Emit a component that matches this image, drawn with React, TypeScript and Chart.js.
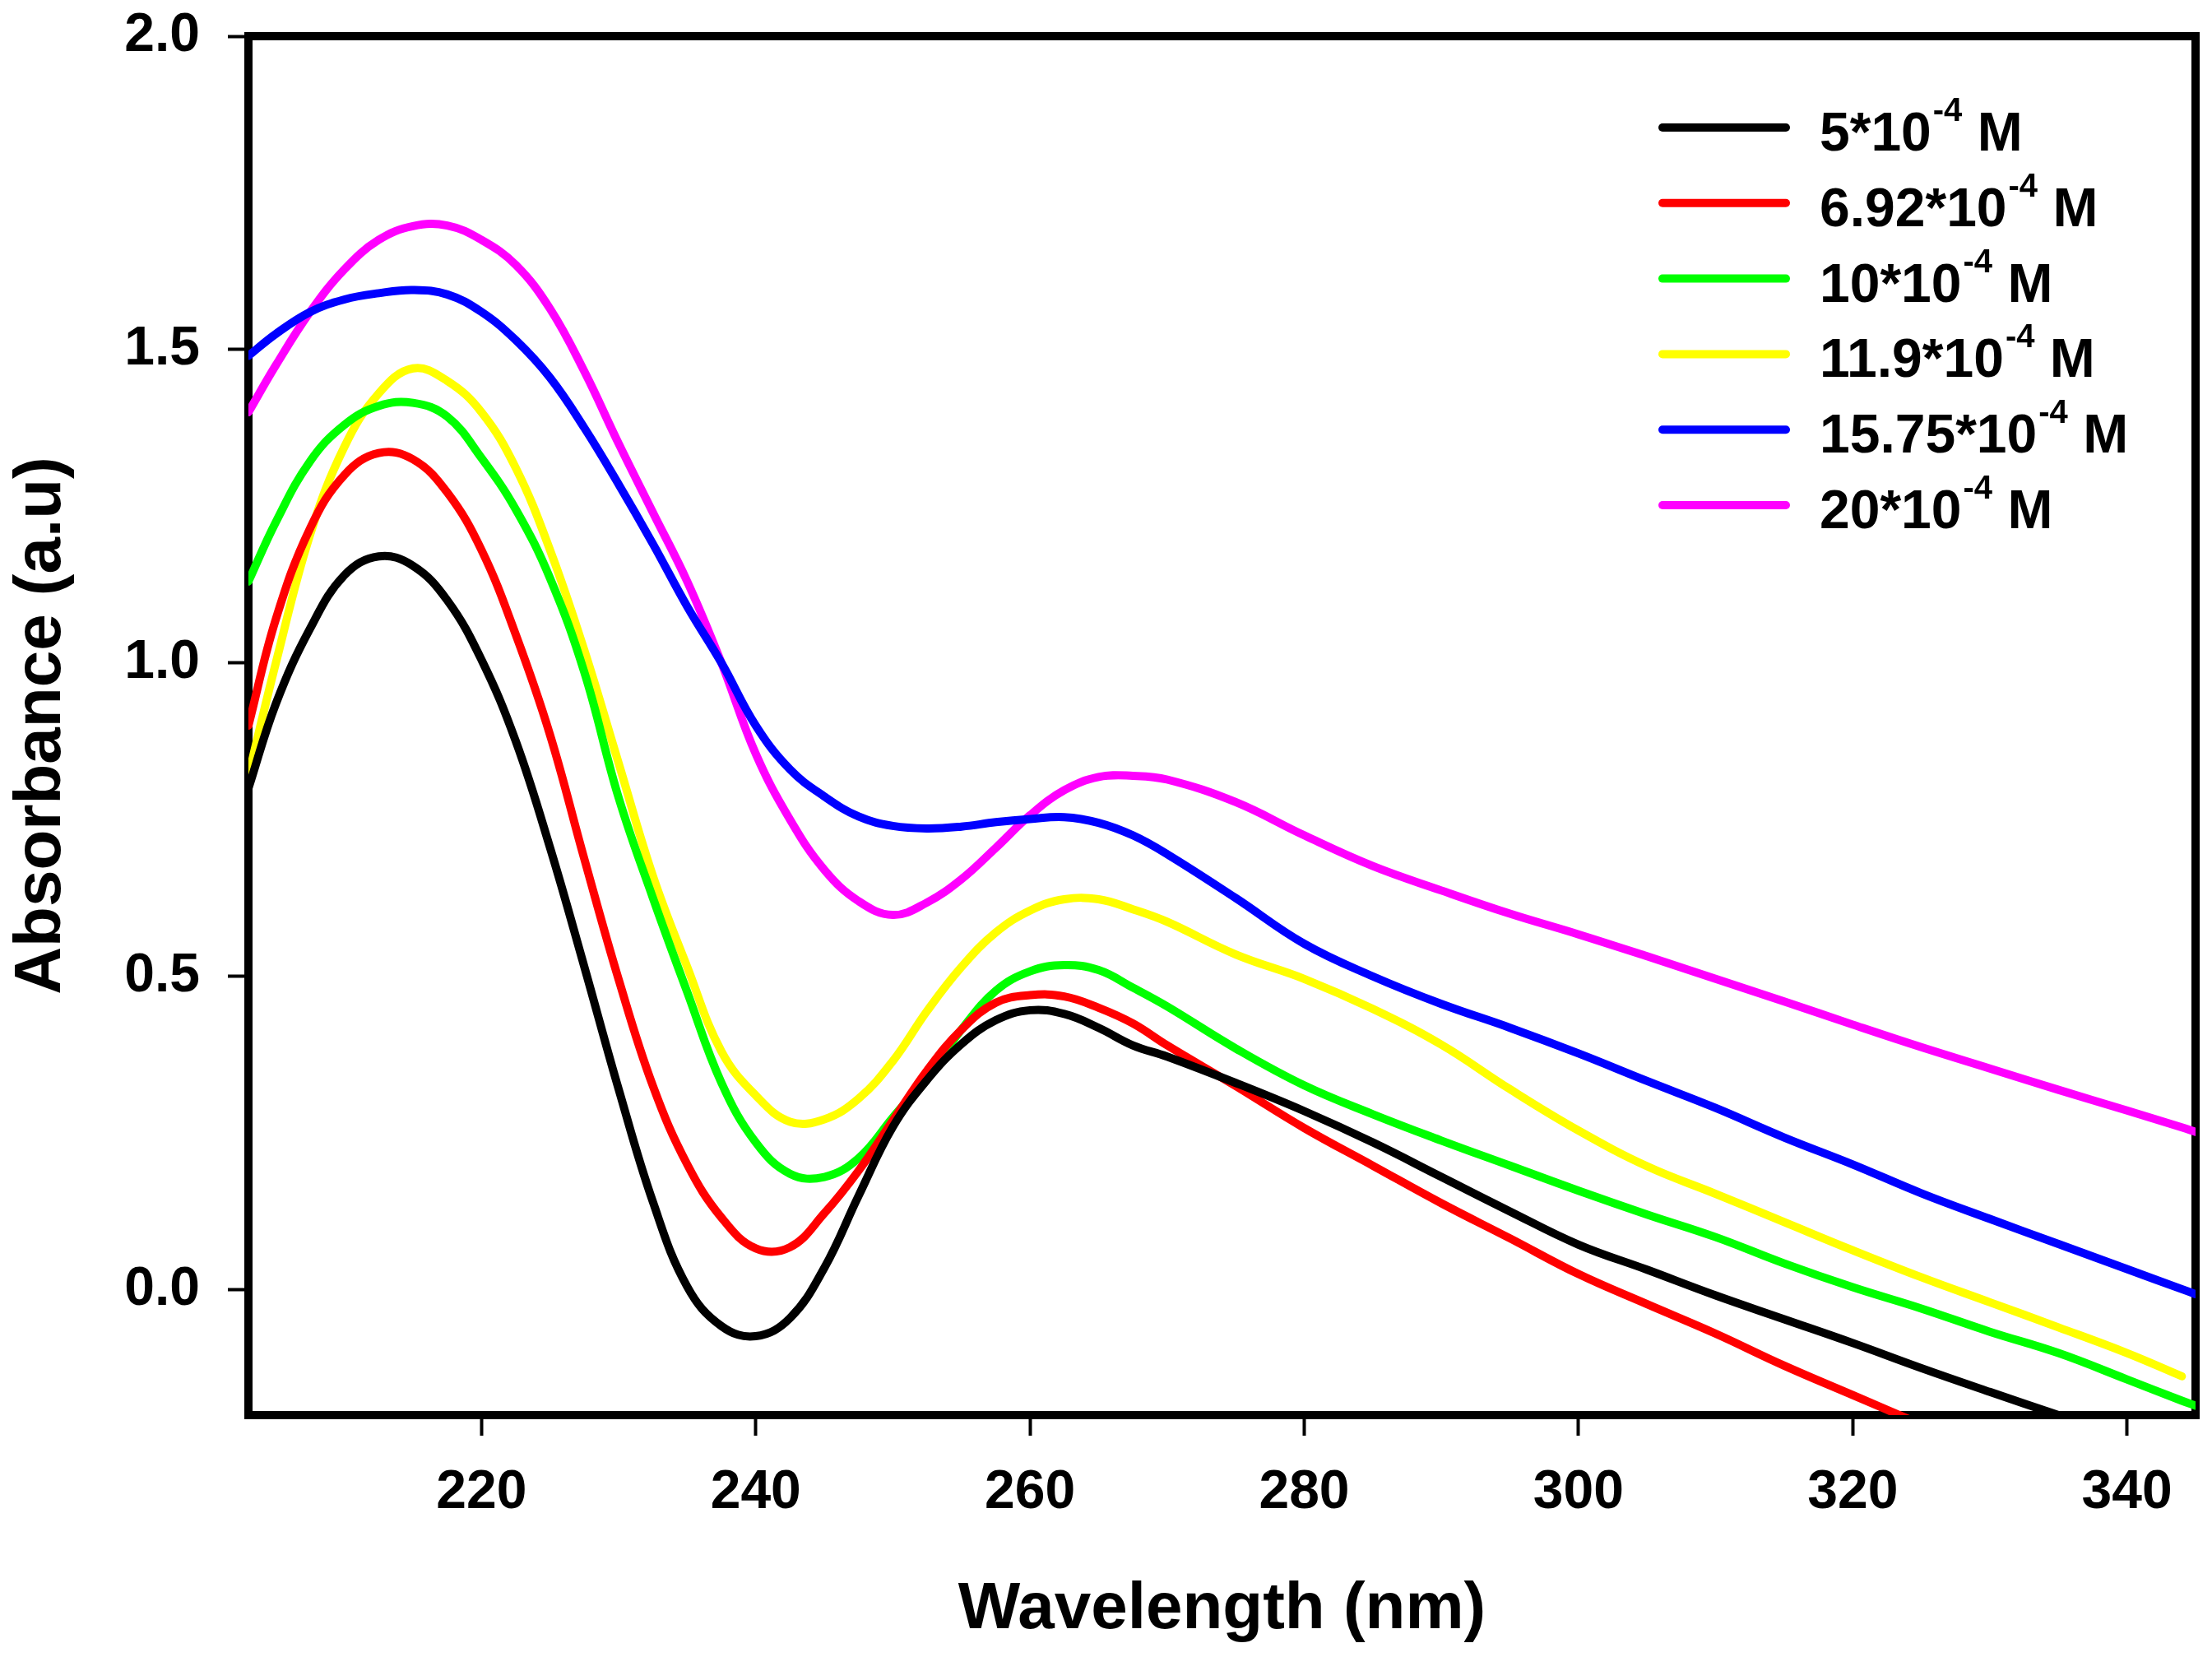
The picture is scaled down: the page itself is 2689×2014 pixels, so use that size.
import { useEffect, useRef } from 'react';
import Chart from 'chart.js/auto';

// wavelength grid (nm) shared by all spectra
const wavelengths = [
  203, 205, 207.5, 210, 212.5, 215, 217.5, 220, 222.5, 225, 227.5, 230, 232.5, 235, 237.5, 240,
  242.5, 245, 247.5, 250, 252.5, 255, 257.5, 260, 262.5, 265, 267.5, 270, 275, 280, 285, 290,
  295, 300, 305, 310, 315, 320, 325, 330, 335, 340, 344, 345
];

// concentrations (x 10^-4 M)
const concentrations = ['5', '6.92', '10', '11.9', '15.75', '20'];
const colors = ['#000000', '#ff0000', '#00ff00', '#ffff00', '#0000ff', '#ff00ff'];

const abs5 = [
  0.8, 0.935, 1.055, 1.14, 1.17, 1.155, 1.1, 1.005, 0.875, 0.705, 0.515, 0.32, 0.14, 0.005, -0.058, -0.074,
  -0.045, 0.035, 0.15, 0.26, 0.335, 0.392, 0.43, 0.446, 0.44, 0.418, 0.39, 0.372, 0.33, 0.285, 0.235, 0.18,
  0.125, 0.072, 0.032, -0.009, -0.047, -0.085, -0.125, -0.163, -0.2, null, null, null
];
const abs692 = [
  0.9, 1.07, 1.215, 1.3, 1.335, 1.325, 1.272, 1.18, 1.045, 0.885, 0.687, 0.495, 0.325, 0.2, 0.115, 0.066,
  0.068, 0.122, 0.19, 0.27, 0.35, 0.415, 0.458, 0.47, 0.468, 0.45, 0.425, 0.39, 0.325, 0.258, 0.198, 0.138,
  0.082, 0.025, -0.023, -0.07, -0.121, -0.168, -0.215, null, null, null, null, null
];
const abs10 = [
  1.13, 1.225, 1.322, 1.38, 1.41, 1.415, 1.393, 1.327, 1.245, 1.135, 0.985, 0.785, 0.625, 0.475, 0.33, 0.235,
  0.185, 0.18, 0.21, 0.275, 0.34, 0.415, 0.477, 0.508, 0.518, 0.51, 0.482, 0.452, 0.385, 0.326, 0.28, 0.238,
  0.198, 0.158, 0.12, 0.084, 0.042, 0.004, -0.03, -0.067, -0.101, -0.143, -0.177, -0.185
];
const abs119 = [
  0.82, 1.0, 1.205, 1.345, 1.43, 1.47, 1.45, 1.4, 1.311, 1.18, 1.02, 0.84, 0.66, 0.515, 0.38, 0.31,
  0.268, 0.272, 0.305, 0.365, 0.445, 0.515, 0.57, 0.605, 0.623, 0.623, 0.607, 0.587, 0.535, 0.496, 0.448, 0.391,
  0.32, 0.254, 0.197, 0.153, 0.108, 0.063, 0.02, -0.02, -0.06, -0.101, -0.138, null
];
const abs1575 = [
  1.49, 1.525, 1.56, 1.58, 1.59, 1.595, 1.588, 1.56, 1.515, 1.455, 1.375, 1.285, 1.19, 1.09, 1.0, 0.9,
  0.83, 0.787, 0.755, 0.74, 0.736, 0.739, 0.746, 0.751, 0.754, 0.745, 0.725, 0.695, 0.625, 0.552, 0.5, 0.456,
  0.418, 0.377, 0.333, 0.29, 0.243, 0.2, 0.154, 0.113, 0.073, 0.033, 0.001, -0.007
];
const abs20 = [
  1.4, 1.475, 1.56, 1.628, 1.675, 1.697, 1.698, 1.675, 1.635, 1.565, 1.465, 1.35, 1.24, 1.13, 1.0, 0.855,
  0.75, 0.67, 0.62, 0.598, 0.618, 0.655, 0.705, 0.757, 0.797, 0.818, 0.82, 0.814, 0.778, 0.725, 0.676, 0.637,
  0.6, 0.567, 0.532, 0.496, 0.46, 0.423, 0.387, 0.353, 0.319, 0.286, 0.259, 0.252
];

const series = [abs5, abs692, abs10, abs119, abs1575, abs20];

const FONT = 'Liberation Sans, Arial, sans-serif';

// legend with superscript exponent, drawn in the upper right
const concLegend = {
  id: 'concLegend',
  afterDraw(chart: any) {
    const ctx = chart.ctx;
    ctx.save();
    chart.data.datasets.forEach((ds: any, i: number) => {
      const y = 155 + i * 91.8;
      ctx.strokeStyle = ds.borderColor;
      ctx.lineWidth = 10;
      ctx.lineCap = 'round';
      ctx.beginPath();
      ctx.moveTo(2021, y);
      ctx.lineTo(2171, y);
      ctx.stroke();

      const base = y + 28;
      let x = 2212;
      ctx.fillStyle = '#000';
      ctx.textBaseline = 'alphabetic';
      ctx.textAlign = 'left';
      ctx.font = `bold 66px ${FONT}`;
      const main = `${concentrations[i]}*10`;
      ctx.fillText(main, x, base);
      x += ctx.measureText(main).width + 2;
      ctx.font = `bold 40px ${FONT}`;
      ctx.fillText('-4', x, base - 36);
      x += ctx.measureText('-4').width;
      ctx.font = `bold 66px ${FONT}`;
      ctx.fillText(' M', x, base);
    });
    ctx.restore();
  }
};

// closed frame around the plot area
const frame = {
  id: 'frame',
  beforeDatasetsDraw(chart: any) {
    const { ctx, chartArea } = chart;
    ctx.save();
    ctx.strokeStyle = '#000';
    ctx.lineWidth = 10;
    ctx.strokeRect(chartArea.left, chartArea.top, chartArea.right - chartArea.left, chartArea.bottom - chartArea.top);
    ctx.restore();
  }
};

export default function App() {
  const canvasRef = useRef<HTMLCanvasElement>(null);
  const chartRef = useRef<Chart | null>(null);

  useEffect(() => {
    if (!canvasRef.current) return;
    const ctx = canvasRef.current.getContext('2d');
    if (!ctx) return;
    if (chartRef.current) chartRef.current.destroy();

    const tickFont = { family: FONT, size: 66, weight: 'bold' as const };
    const titleFont = { family: FONT, size: 80, weight: 'bold' as const };

    chartRef.current = new Chart(ctx, {
      type: 'line',
      data: {
        datasets: series.map((vals, i) => ({
          label: `${concentrations[i]}*10⁻⁴ M`,
          data: wavelengths
            .map((w, j) => ({ x: w, y: vals[j] }))
            .filter((p) => p.y !== null) as any,
          borderColor: colors[i],
          backgroundColor: colors[i],
          borderWidth: 10,
          borderCapStyle: 'round',
          borderJoinStyle: 'round',
          pointRadius: 0,
          tension: 0.4,
          fill: false
        }))
      },
      options: {
        responsive: false,
        devicePixelRatio: 1,
        animation: false,
        layout: { padding: { top: 44, right: 20, bottom: 0, left: 0 } },
        plugins: {
          legend: { display: false },
          tooltip: { enabled: false }
        },
        scales: {
          x: {
            type: 'linear',
            min: 203,
            max: 345,
            afterFit: (s: any) => {
              s.height = 294;
              s.paddingLeft = 0;
              s.paddingRight = 0;
            },
            ticks: {
              stepSize: 20,
              includeBounds: false,
              autoSkip: false,
              maxRotation: 0,
              color: '#000',
              font: tickFont,
              padding: 30
            },
            grid: {
              display: true,
              drawOnChartArea: false,
              drawTicks: true,
              tickLength: 25,
              tickWidth: 4,
              tickColor: '#000',
              color: '#000'
            },
            border: { display: false },
            title: {
              display: true,
              text: 'Wavelength (nm)',
              color: '#000',
              font: titleFont,
              padding: { top: 0, bottom: 9 }
            }
          },
          y: {
            type: 'linear',
            min: -0.2,
            max: 2.0,
            afterFit: (s: any) => {
              s.width = 302;
              s.paddingTop = 0;
              s.paddingBottom = 0;
            },
            ticks: {
              stepSize: 0.5,
              includeBounds: false,
              color: '#000',
              font: tickFont,
              padding: 34,
              callback: (v: any) => Number(v).toFixed(1)
            },
            grid: {
              display: true,
              drawOnChartArea: false,
              drawTicks: true,
              tickLength: 25,
              tickWidth: 4,
              tickColor: '#000',
              color: '#000'
            },
            border: { display: false },
            title: {
              display: true,
              text: 'Absorbance (a.u)',
              color: '#000',
              font: titleFont,
              padding: { top: 3, bottom: 0 }
            }
          }
        }
      },
      plugins: [frame, concLegend]
    });

    return () => {
      if (chartRef.current) {
        chartRef.current.destroy();
        chartRef.current = null;
      }
    };
  }, []);

  return (
    <div style={{ position: 'absolute', left: 0, top: 0, width: 2689, height: 2014, background: '#fff' }}>
      <canvas ref={canvasRef} width={2689} height={2014} style={{ display: 'block' }} />
    </div>
  );
}
